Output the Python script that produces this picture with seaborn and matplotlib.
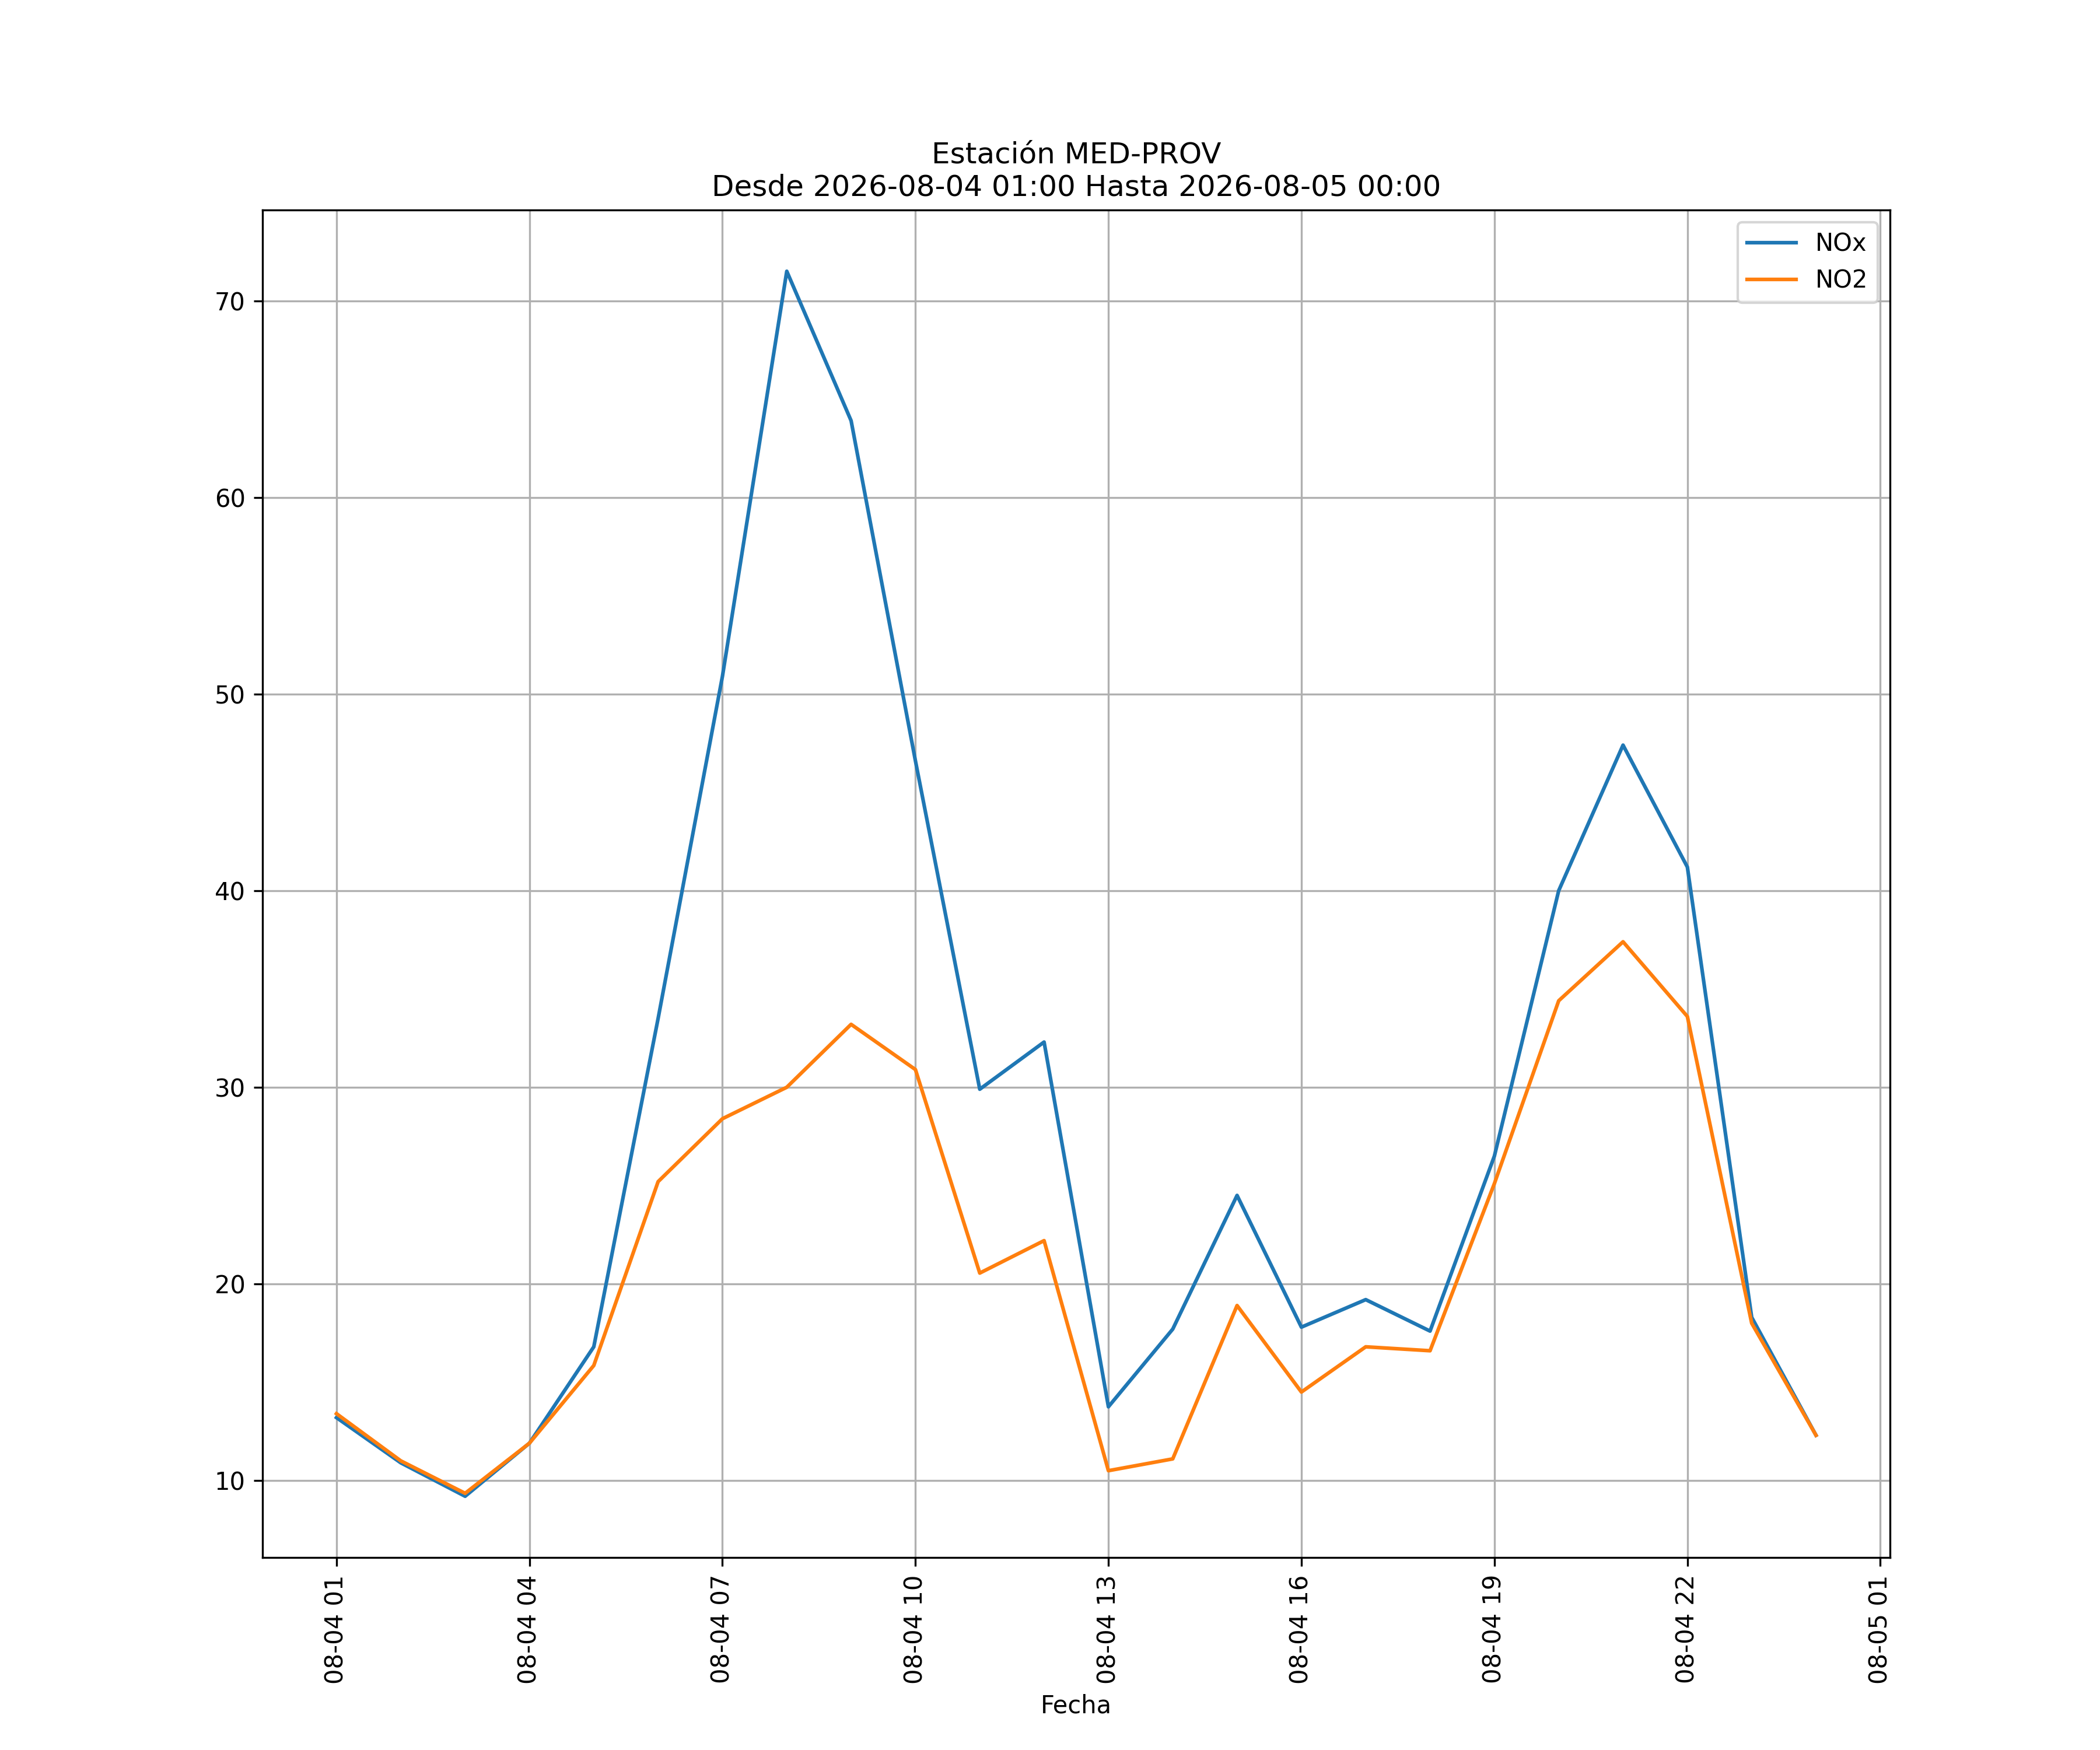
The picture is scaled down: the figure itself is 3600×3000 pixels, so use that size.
import matplotlib
matplotlib.use("Agg")
import matplotlib.pyplot as plt
import matplotlib.dates as mdates
import seaborn as sns
import pandas as pd

hours = pd.date_range("2026-08-04 01:00", "2026-08-05 00:00", freq="h")
nox = [13.2, 10.9, 9.2, 11.9, 16.8, 33.5, 50.9, 71.5, 63.9, 46.6, 29.9, 32.3,
       13.75, 17.7, 24.5, 17.8, 19.2, 17.6, 26.5, 40.0, 47.4, 41.2, 18.3, 12.3]
no2 = [13.4, 11.0, 9.35, 11.9, 15.85, 25.2, 28.4, 30.0, 33.2, 30.9, 20.55, 22.2,
       10.5, 11.1, 18.9, 14.5, 16.8, 16.6, 25.1, 34.4, 37.4, 33.6, 18.0, 12.3]
series_names = ["NOx", "NO2"]
title = "Estación MED-PROV\nDesde 2026-08-04 01:00 Hasta 2026-08-05 00:00"

df = pd.DataFrame({"Fecha": hours, "NOx": nox, "NO2": no2})
long = df.melt(id_vars="Fecha", value_vars=series_names, var_name="serie", value_name="valor")

fig, ax = plt.subplots(figsize=(12, 10), dpi=300)
sns.lineplot(data=long, x="Fecha", y="valor", hue="serie", hue_order=series_names,
             palette=["#1f77b4", "#ff7f0e"], ax=ax, linewidth=1.5)
ax.set_title(title, fontsize=12)
ax.set_xlabel("Fecha")
ax.set_ylabel("")
ax.xaxis.set_major_locator(mdates.HourLocator(byhour=range(1, 24, 3)))
ax.xaxis.set_major_formatter(mdates.DateFormatter("%m-%d %H"))
plt.setp(ax.get_xticklabels(), rotation=90)
ax.grid(True)
handles, labels = ax.get_legend_handles_labels()
ax.legend(handles, labels, loc="upper right")
fig.savefig("out.png", dpi=300)
